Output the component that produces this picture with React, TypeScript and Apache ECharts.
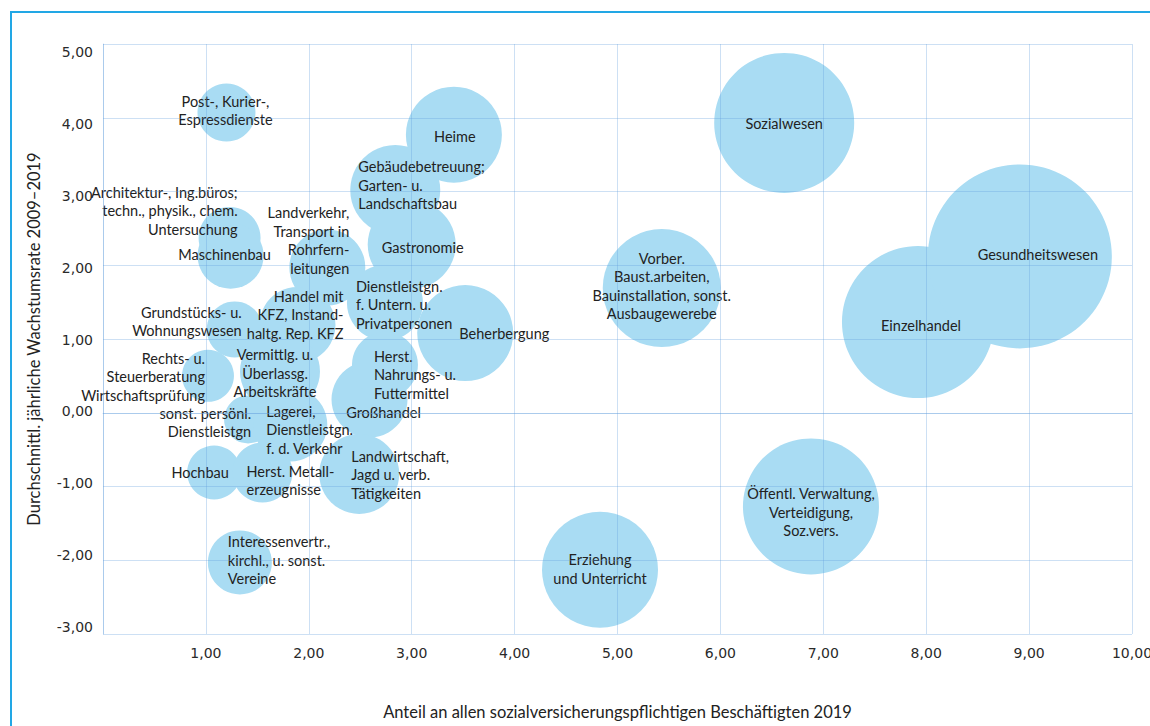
import React, { useEffect, useRef } from "react";
import * as echarts from "echarts";

// Branch names
const names: string[] = [
  "Post-, Kurier-,\nEspressdienste",
  "Heime",
  "Sozialwesen",
  "Gebäudebetreuung;\nGarten- u.\nLandschaftsbau",
  "Architektur-, Ing.büros;\ntechn., physik., chem.\nUntersuchung",
  "Maschinenbau",
  "Landverkehr,\nTransport in\nRohrfern-\nleitungen",
  "Gastronomie",
  "Dienstleistgn.\nf. Untern. u.\nPrivatpersonen",
  "Beherbergung",
  "Handel mit\nKFZ, Instand-\nhaltg. Rep. KFZ",
  "Grundstücks- u.\nWohnungswesen",
  "Rechts- u.\nSteuerberatung\nWirtschaftsprüfung",
  "Vermittlg. u.\nÜberlassg.\nArbeitskräfte",
  "sonst. persönl.\nDienstleistgn",
  "Lagerei,\nDienstleistgn.\nf. d. Verkehr",
  "Großhandel",
  "Herst.\nNahrungs- u.\nFuttermittel",
  "Hochbau",
  "Herst. Metall-\nerzeugnisse",
  "Landwirtschaft,\nJagd u. verb.\nTätigkeiten",
  "Interessenvertr.,\nkirchl., u. sonst.\nVereine",
  "Erziehung\nund Unterricht",
  "Vorber.\nBaust.arbeiten,\nBauinstallation, sonst.\nAusbaugewerebe",
  "Öffentl. Verwaltung,\nVerteidigung,\nSoz.vers.",
  "Einzelhandel",
  "Gesundheitswesen",
];

// Anteil an allen SV-Beschäftigten 2019 (%)
const shares: number[] = [
  1.2, 3.41, 6.62, 2.84, 1.23, 1.24, 2.18, 3.0, 2.74, 3.52, 1.89, 1.28, 1.02, 1.72,
  1.41, 1.82, 2.59, 2.74, 1.08, 1.55, 2.49, 1.33, 4.83, 5.43, 6.88, 7.92, 8.91,
];

// Durchschnittl. jährliche Wachstumsrate 2009–2019 (%)
const growth: number[] = [
  4.07, 3.77, 3.93, 3.02, 2.37, 2.13, 1.97, 2.28, 1.49, 1.08, 1.19, 1.13, 0.5, 0.56,
  -0.09, -0.16, 0.18, 0.65, -0.81, -0.81, -0.83, -2.03, -2.13, 1.69, -1.27, 1.23, 2.12,
];

// Bubble size (diameter)
const bubbleSize: number[] = [
  58, 96, 140, 90, 62, 66, 76, 88, 76, 96, 76, 56, 52, 80, 48, 74, 76, 66, 54, 60, 80,
  64, 116, 118, 136, 152, 184,
];

// Label placement: [align, dx, dy]
const labelPlacement: [string, number, number][] = [
  ["center", -1, -2],
  ["center", 1, 2],
  ["center", 0, 1],
  ["left", -37, -5],
  ["right", 8, -27],
  ["center", -6, -1],
  ["right", 22, -27],
  ["center", 11, 3],
  ["left", -29, 2],
  ["left", -6, 0],
  ["right", 46, -10],
  ["right", 7, -8],
  ["right", -3, 1],
  ["center", -5, 2],
  ["right", 3, 3],
  ["left", -24, 5],
  ["center", 14, 13],
  ["left", -11, 10],
  ["center", -14, 0],
  ["left", -16, 8],
  ["left", -8, 1],
  ["left", -12, -2],
  ["center", 0, -1],
  ["center", 0, -2],
  ["center", 0, 6],
  ["center", 3, 3],
  ["center", 18, -2],
];

const fmt = (v: number) => v.toFixed(2).replace(".", ",");

export default function App() {
  const ref = useRef<HTMLDivElement>(null);
  useEffect(() => {
    document.body.style.margin = "0";
    if (!ref.current) return;
    const chart = echarts.init(ref.current, undefined, { renderer: "svg" });
    const labelFont = "Lato, 'Noto Sans', sans-serif";
    const tickFont = "'DejaVu Sans', sans-serif";
    const data = names.map((n, i) => ({
      name: n,
      value: [shares[i], growth[i], bubbleSize[i]],
      label: {
        align: labelPlacement[i][0],
        offset: [labelPlacement[i][1], labelPlacement[i][2]],
      },
    }));
    const gridLine = "rgba(100,160,220,0.32)";
    chart.setOption({
      animation: false,
      grid: [
        { left: 103, top: 44, right: 18, bottom: 92, containLabel: false, outerBoundsMode: "none" },
        { left: 103, top: 52, right: 18, bottom: 99, containLabel: false, outerBoundsMode: "none" },
      ],
      xAxis: [
        {
          type: "value",
          gridIndex: 0,
          min: 0,
          max: 10,
          interval: 1,
          z: 3,
          name: "Anteil an allen sozialversicherungspflichtigen Beschäftigten 2019",
          nameLocation: "middle",
          nameGap: 69,
          nameTextStyle: { fontFamily: labelFont, fontSize: 16.5, color: "#222" },
          axisLine: { show: true, lineStyle: { color: gridLine } },
          axisTick: { show: false },
          splitLine: { show: true, lineStyle: { color: gridLine, width: 1 } },
          axisLabel: {
            showMinLabel: false,
            formatter: fmt,
            margin: 12,
            fontFamily: tickFont,
            fontSize: 14,
            color: "#2a2a2a",
          },
        },
        {
          type: "value",
          gridIndex: 1,
          min: 0,
          max: 10,
          show: false,
        },
      ],
      yAxis: [
        {
          type: "value",
          gridIndex: 0,
          min: -3,
          max: 5,
          interval: 1,
          z: 3,
          name: "Durchschnittl. jährliche Wachstumsrate 2009–2019",
          nameLocation: "middle",
          nameGap: 61,
          nameTextStyle: { fontFamily: labelFont, fontSize: 16.5, color: "#222" },
          axisLine: { show: true, lineStyle: { color: gridLine } },
          axisTick: { show: false },
          splitLine: { show: true, lineStyle: { color: gridLine, width: 1 } },
          axisLabel: { show: false },
        },
        {
          type: "value",
          gridIndex: 1,
          min: -3,
          max: 5,
          interval: 1,
          axisLine: { show: false },
          axisTick: { show: false },
          splitLine: { show: false },
          axisLabel: {
            formatter: fmt,
            margin: 10,
            fontFamily: tickFont,
            fontSize: 14,
            color: "#2a2a2a",
          },
        },
      ],
      graphic: [
        {
          type: "polyline",
          shape: { points: [[11, 726], [11, 12], [1150, 12]] },
          style: { stroke: "#22a7e5", lineWidth: 2, fill: null },
          silent: true,
        },
      ],
      series: [
        {
          type: "scatter",
          xAxisIndex: 0,
          yAxisIndex: 0,
          z: 2,
          data,
          symbolSize: (v: number[]) => v[2],
          itemStyle: { color: "#a9dcf3", opacity: 1 },
          label: {
            show: true,
            position: "inside",
            formatter: (p: any) => p.name,
            fontFamily: labelFont,
            fontSize: 14.5,
            lineHeight: 18.5,
            color: "#222",
            verticalAlign: "middle",
          },
          emphasis: { disabled: true },
        },
      ],
    });
    return () => chart.dispose();
  }, []);
  return <div ref={ref} style={{ width: 1150, height: 726 }} />;
}
